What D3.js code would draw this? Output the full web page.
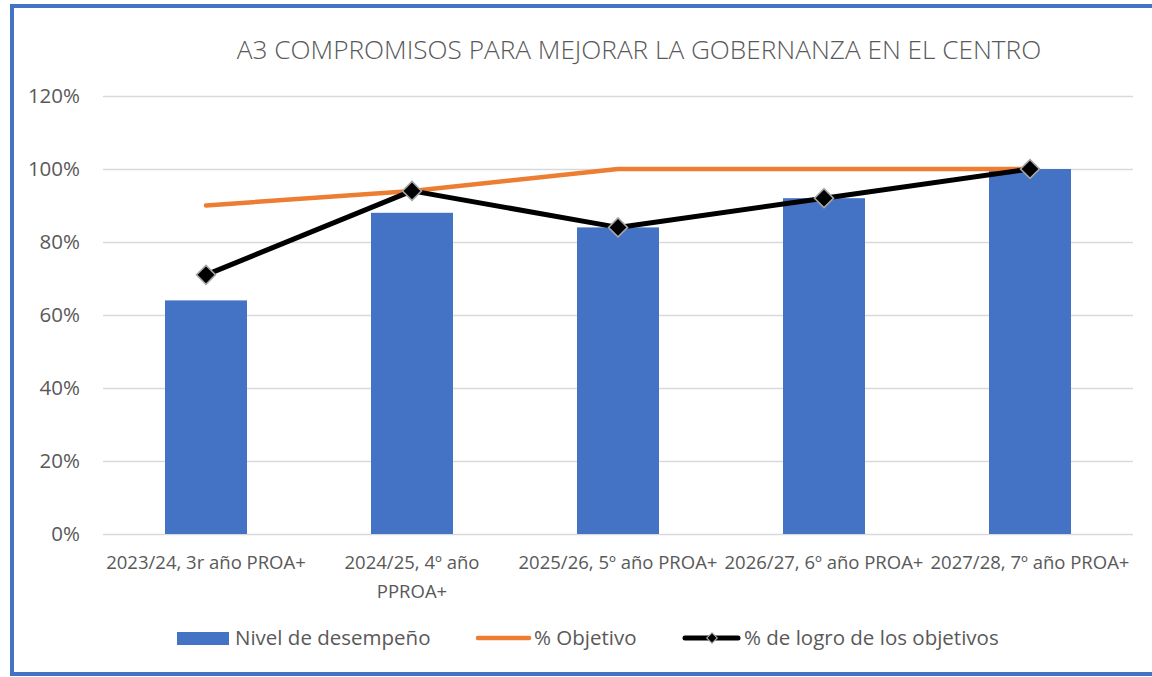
<!DOCTYPE html>
<html>
<head>
<meta charset="utf-8">
<script src="https://cdn.jsdelivr.net/npm/d3@7"></script>
<style>
  body { margin: 0; background: #fff; }
  svg { display: block; font-family: "Open Sans", "Noto Sans", sans-serif; }
</style>
</head>
<body>
<svg id="chart" width="1152" height="677"></svg>
<script>
// chart data
var categories = [
    ["2023/24, 3r año PROA+"],
    ["2024/25, 4º año", "PPROA+"],
    ["2025/26, 5º año PROA+"],
    ["2026/27, 6º año PROA+"],
    ["2027/28, 7º año PROA+"]
];
var nivel = [0.64, 0.88, 0.84, 0.92, 1.00];
var objetivo = [0.90, 0.94, 1.00, 1.00, 1.00];
var logro = [0.71, 0.94, 0.84, 0.92, 1.00];
var yTicks = [0, 0.2, 0.4, 0.6, 0.8, 1.0, 1.2];
var titleText = "A3 COMPROMISOS PARA MEJORAR LA GOBERNANZA EN EL CENTRO";
var legendNames = ["Nivel de desempeño", "% Objetivo", "% de logro de los objetivos"];

var svg = d3.select("#chart");
var textColor = "#595959";

// outer frame
svg.append("rect")
    .attr("x", 12).attr("y", 6)
    .attr("width", 1150).attr("height", 668)
    .attr("fill", "none")
    .attr("stroke", "#4472C4")
    .attr("stroke-width", 4);

var plot = { left: 103, right: 1133, top: 96, bottom: 534 };

var x = d3.scaleBand()
    .domain(d3.range(categories.length))
    .range([plot.left, plot.right]);
var y = d3.scaleLinear()
    .domain([0, 1.2])
    .range([plot.bottom, plot.top]);

svg.append("text")
    .attr("x", 639).attr("y", 59)
    .attr("text-anchor", "middle")
    .style("font-size", "26.2px")
    .style("font-weight", 300)
    .attr("fill", textColor)
    .text(titleText);

// gridlines
svg.append("g").selectAll("line")
    .data(yTicks)
    .enter().append("line")
    .attr("x1", plot.left).attr("x2", plot.right)
    .attr("y1", function(d) { return Math.round(y(d)) + 0.5; })
    .attr("y2", function(d) { return Math.round(y(d)) + 0.5; })
    .attr("stroke", "#d9d9d9")
    .attr("stroke-width", 1.3);

// y labels
svg.append("g").selectAll("text")
    .data(yTicks)
    .enter().append("text")
    .attr("x", 80)
    .attr("y", function(d) { return y(d) + 7; })
    .attr("text-anchor", "end")
    .style("font-size", "20.5px")
    .attr("fill", textColor)
    .text(d3.format(".0%"));

// bars
var barW = 82;
svg.append("g").selectAll("rect")
    .data(nivel)
    .enter().append("rect")
    .attr("x", function(d, i) { return x(i) + x.bandwidth() / 2 - barW / 2; })
    .attr("y", function(d) { return y(d); })
    .attr("width", barW)
    .attr("height", function(d) { return y(0) - y(d); })
    .attr("fill", "#4472C4");

// x labels
var xl = svg.append("g").selectAll("text")
    .data(categories)
    .enter().append("text")
    .attr("x", function(d, i) { return x(i) + x.bandwidth() / 2; })
    .attr("y", 569)
    .attr("text-anchor", "middle")
    .style("font-size", "18.5px")
    .attr("fill", textColor);
xl.each(function(d, i) {
    var t = d3.select(this);
    d.forEach(function(s, k) {
        t.append("tspan")
            .attr("x", x(i) + x.bandwidth() / 2)
            .attr("dy", k == 0 ? 0 : 29)
            .text(s);
    });
});

var line = d3.line()
    .x(function(d, i) { return x(i) + x.bandwidth() / 2; })
    .y(function(d) { return y(d); });

svg.append("path")
    .datum(objetivo)
    .attr("d", line)
    .attr("fill", "none")
    .attr("stroke", "#ED7D31")
    .attr("stroke-width", 4.5)
    .attr("stroke-linecap", "round")
    .attr("stroke-linejoin", "round");

svg.append("path")
    .datum(logro)
    .attr("d", line)
    .attr("fill", "none")
    .attr("stroke", "#000")
    .attr("stroke-width", 5)
    .attr("stroke-linecap", "round")
    .attr("stroke-linejoin", "round");

var diamond = d3.symbol().type(d3.symbolSquare).size(180);
svg.append("g").selectAll("path")
    .data(logro)
    .enter().append("path")
    .attr("d", diamond)
    .attr("transform", function(d, i) {
        return "translate(" + (x(i) + x.bandwidth() / 2) + "," + y(d) + ") rotate(45)";
    })
    .attr("fill", "#000")
    .attr("stroke", "#a6a6a6")
    .attr("stroke-width", 1.6);

// legend
var lg = svg.append("g");
var ly = 638;
var legendSize = "20.5px";
lg.append("rect")
    .attr("x", 177).attr("y", ly - 6)
    .attr("width", 52).attr("height", 13)
    .attr("fill", "#4472C4");
lg.append("text")
    .attr("x", 235).attr("y", ly + 7)
    .style("font-size", legendSize)
    .attr("fill", textColor)
    .text(legendNames[0]);
lg.append("line")
    .attr("x1", 478).attr("x2", 529)
    .attr("y1", ly).attr("y2", ly)
    .attr("stroke", "#ED7D31")
    .attr("stroke-width", 4.5)
    .attr("stroke-linecap", "round");
lg.append("text")
    .attr("x", 534).attr("y", ly + 7)
    .style("font-size", legendSize)
    .attr("fill", textColor)
    .text(legendNames[1]);
lg.append("line")
    .attr("x1", 685).attr("x2", 738)
    .attr("y1", ly).attr("y2", ly)
    .attr("stroke", "#000")
    .attr("stroke-width", 5)
    .attr("stroke-linecap", "round");
lg.append("path")
    .attr("d", d3.symbol().type(d3.symbolSquare).size(55))
    .attr("transform", "translate(712," + ly + ") rotate(45)")
    .attr("fill", "#000")
    .attr("stroke", "#a6a6a6")
    .attr("stroke-width", 1.2);
lg.append("text")
    .attr("x", 744).attr("y", ly + 7)
    .style("font-size", legendSize)
    .attr("fill", textColor)
    .text(legendNames[2]);
</script>
</body>
</html>
